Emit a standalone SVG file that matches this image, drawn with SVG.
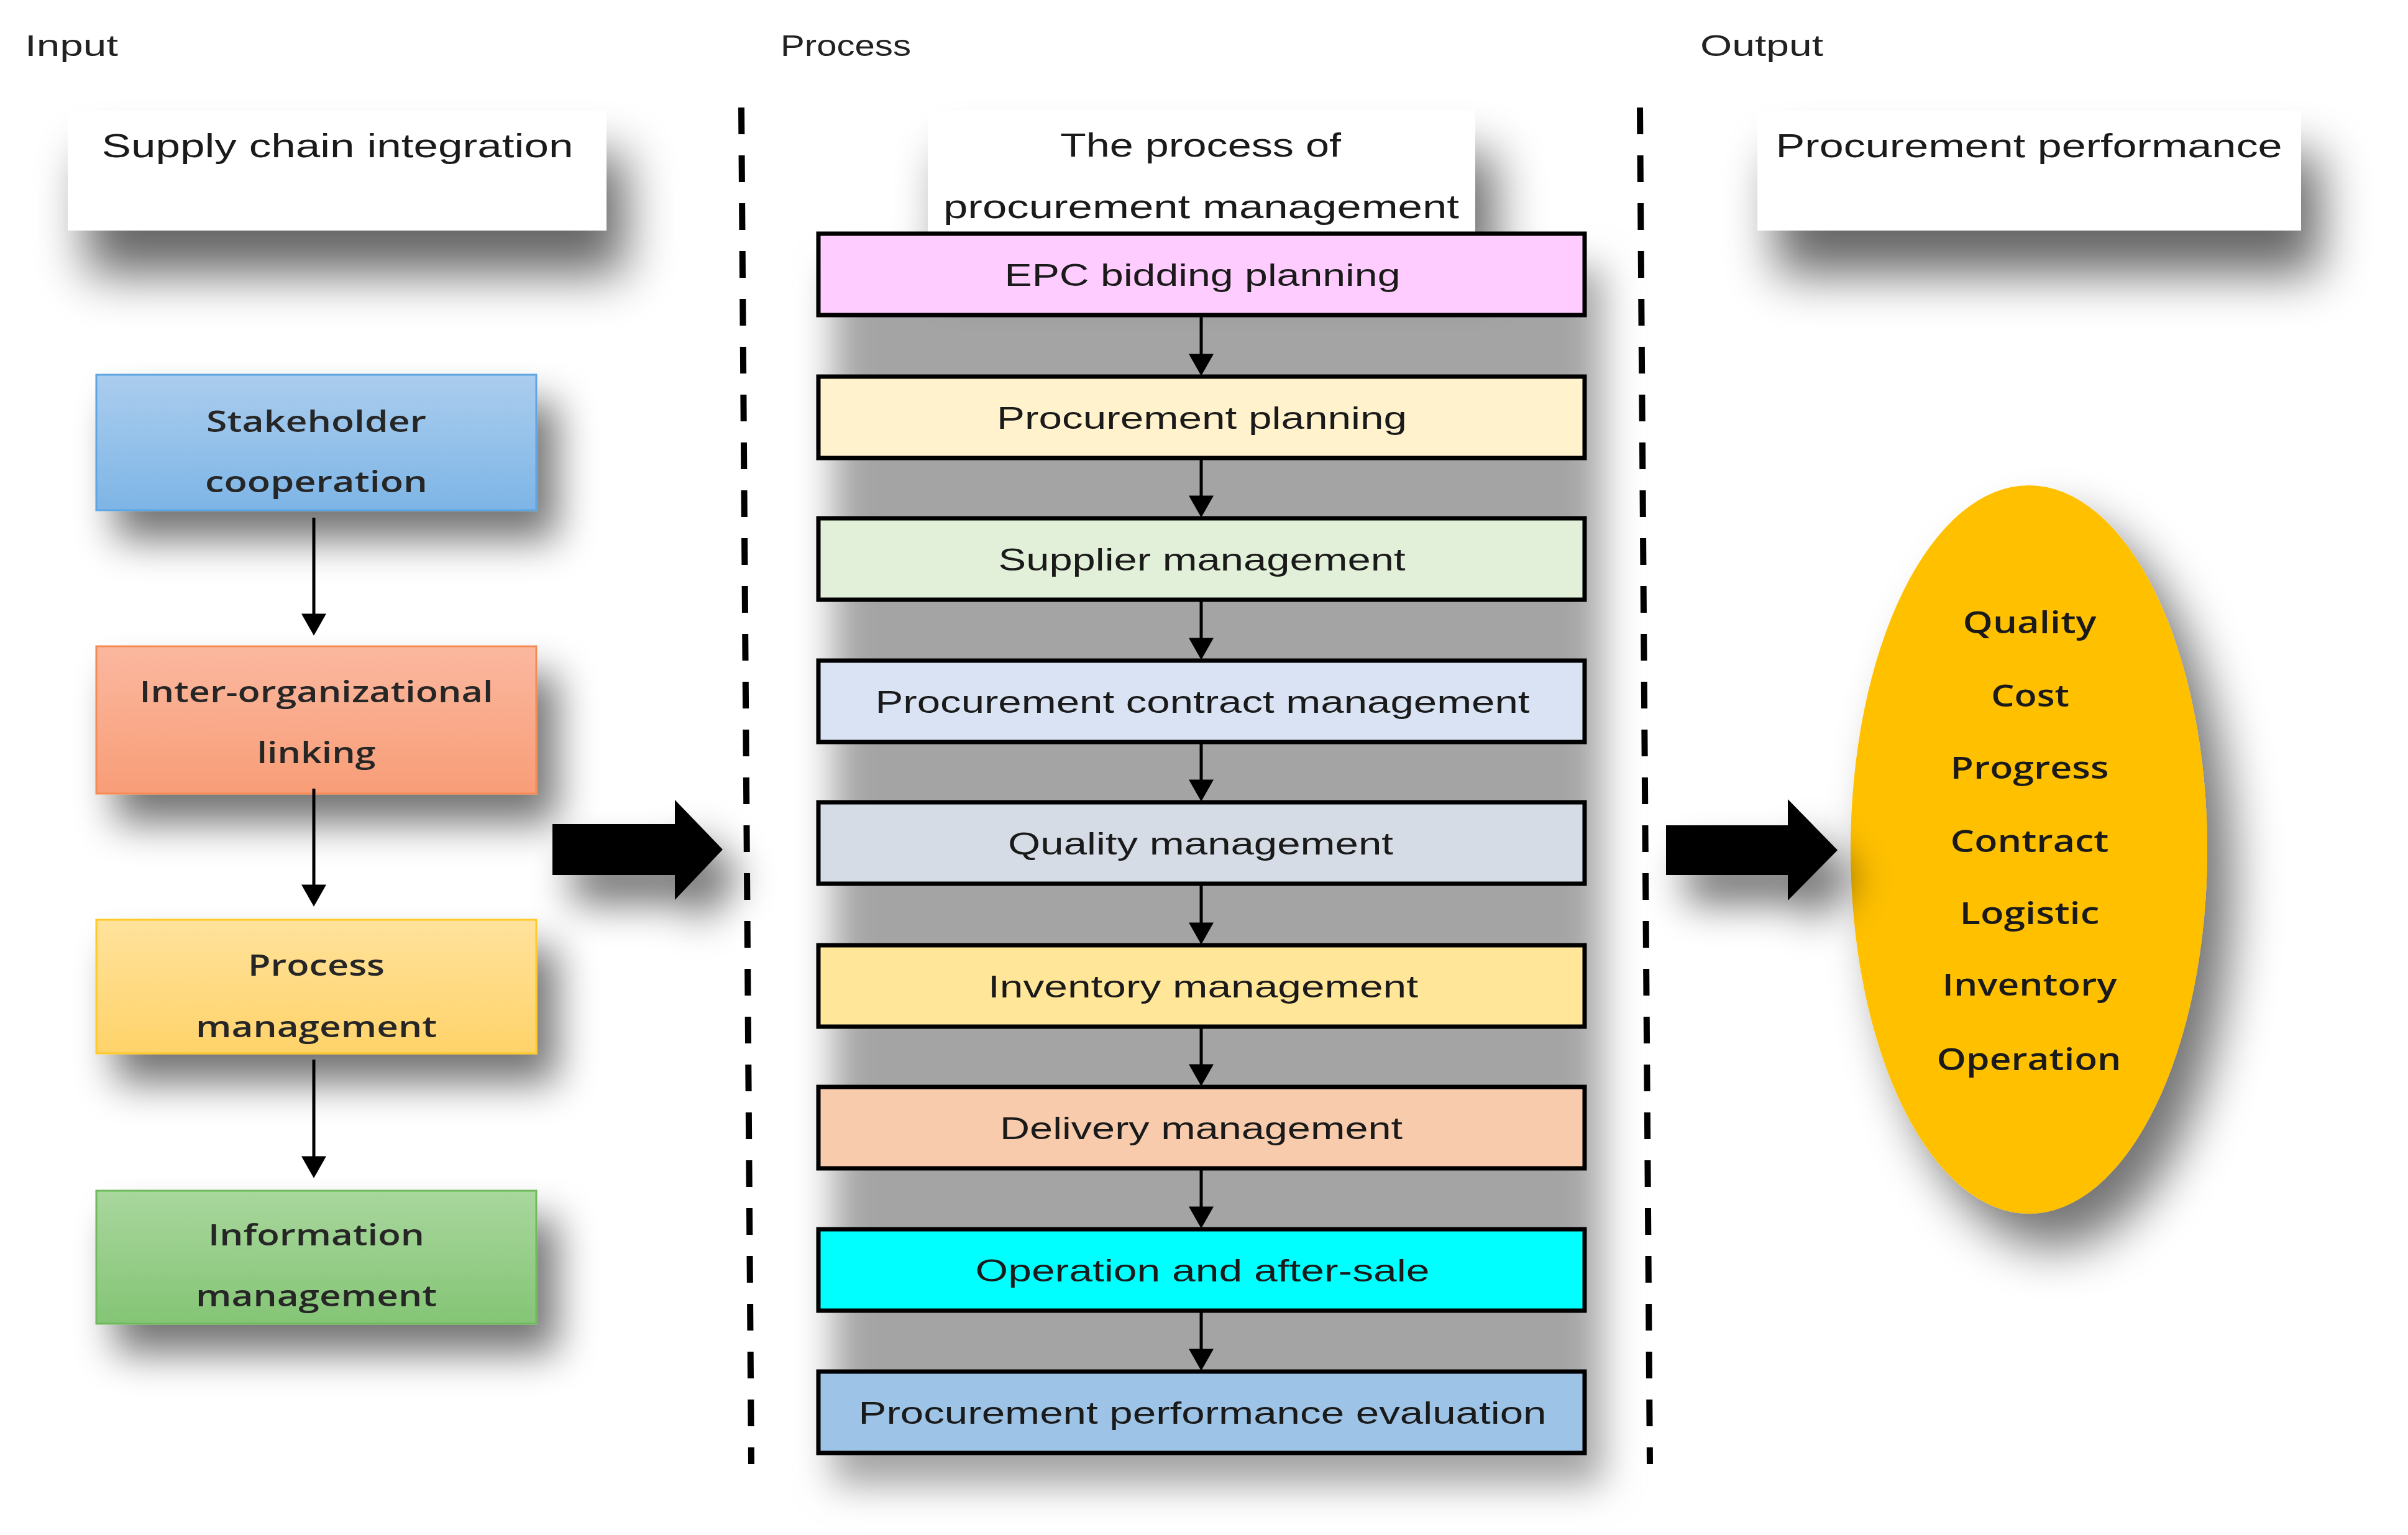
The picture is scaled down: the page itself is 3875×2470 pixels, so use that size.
<svg xmlns="http://www.w3.org/2000/svg" width="3875" height="2470" viewBox="0 0 3875 2470">
<defs>
<style>
.hdr{font-family:"Liberation Sans",Arial,sans-serif;font-size:48px;fill:#222}
.top{font-family:"Liberation Sans",Arial,sans-serif;font-size:54px;fill:#1a1a1a;text-anchor:middle}
.ctr{font-family:"Liberation Sans",Arial,sans-serif;font-size:50px;fill:#1a1a1a;text-anchor:middle}
.lft{font-family:"Open Sans","Liberation Sans",Arial,sans-serif;font-size:47px;font-weight:600;fill:#262626;text-anchor:middle}
.ell{font-family:"Open Sans","Liberation Sans",Arial,sans-serif;font-size:49px;font-weight:600;fill:#1a1a1a;text-anchor:middle}
.pbox{stroke:#000;stroke-width:7}
.conn{stroke:#000;stroke-width:5;fill:none}
.dash{stroke:#000;stroke-width:10;stroke-dasharray:43 34;fill:none}
</style>
<filter id="sh" x="-30%" y="-30%" width="170%" height="190%">
<feGaussianBlur in="SourceAlpha" stdDeviation="32"/>
<feOffset dx="32" dy="46"/>
<feComponentTransfer><feFuncA type="linear" slope="0.55"/></feComponentTransfer>
<feMerge><feMergeNode/><feMergeNode in="SourceGraphic"/></feMerge>
</filter>
<filter id="shE" x="-40%" y="-20%" width="190%" height="150%">
<feGaussianBlur in="SourceAlpha" stdDeviation="40"/>
<feOffset dx="40" dy="55"/>
<feComponentTransfer><feFuncA type="linear" slope="0.55"/></feComponentTransfer>
<feMerge><feMergeNode/><feMergeNode in="SourceGraphic"/></feMerge>
</filter>
<filter id="shTop" x="-20%" y="-50%" width="150%" height="260%">
<feGaussianBlur in="SourceAlpha" stdDeviation="40"/>
<feOffset dx="30" dy="70"/>
<feComponentTransfer><feFuncA type="linear" slope="0.6"/></feComponentTransfer>
<feMerge><feMergeNode/><feMergeNode in="SourceGraphic"/></feMerge>
</filter>
<filter id="blur" x="-20%" y="-20%" width="140%" height="140%">
<feGaussianBlur stdDeviation="30"/>
</filter>
<linearGradient id="gBlue" x1="0" y1="0" x2="0" y2="1"><stop offset="0" stop-color="#abcdee"/><stop offset="1" stop-color="#7db5e6"/></linearGradient>
<linearGradient id="gOrange" x1="0" y1="0" x2="0" y2="1"><stop offset="0" stop-color="#fbb89f"/><stop offset="1" stop-color="#f89d77"/></linearGradient>
<linearGradient id="gYellow" x1="0" y1="0" x2="0" y2="1"><stop offset="0" stop-color="#ffe29b"/><stop offset="1" stop-color="#ffd36a"/></linearGradient>
<linearGradient id="gGreen" x1="0" y1="0" x2="0" y2="1"><stop offset="0" stop-color="#a9d79d"/><stop offset="1" stop-color="#84c575"/></linearGradient>
<marker id="ah" markerUnits="userSpaceOnUse" markerWidth="40" markerHeight="40" viewBox="0 0 30 34" refX="20" refY="17" orient="auto">
<path d="M0,0 L30,17 L0,34 z" fill="#000"/>
</marker>
</defs>
<rect x="0" y="0" width="3875" height="2470" fill="#ffffff"/>

<g id="headers">
<text class="hdr" x="40" y="90" textLength="150" lengthAdjust="spacingAndGlyphs">Input</text>
<text class="hdr" x="1256" y="90" textLength="210" lengthAdjust="spacingAndGlyphs">Process</text>
<text class="hdr" x="2736" y="90" textLength="198" lengthAdjust="spacingAndGlyphs">Output</text>
</g>

<g id="dividers">
<line class="dash" x1="1193" y1="173" x2="1209" y2="2356"/>
<line class="dash" x1="2639" y1="173" x2="2655" y2="2356"/>
</g>

<g id="node-supply-chain">
<rect x="109" y="178" width="867" height="193" fill="#fff" filter="url(#shTop)"/>
<text class="top" x="543" y="253" textLength="759" lengthAdjust="spacingAndGlyphs">Supply chain integration</text>
</g>

<g id="node-procurement-performance">
<rect x="2828" y="178" width="875" height="193" fill="#fff" filter="url(#shTop)"/>
<text class="top" x="3265" y="253" textLength="815" lengthAdjust="spacingAndGlyphs">Procurement performance</text>
</g>

<g id="column-shadow">
<rect x="1340" y="430" width="1240" height="1960" fill="#a4a4a4" filter="url(#blur)"/>
</g>

<g id="node-process-of">
<rect x="1493" y="177" width="881" height="200" fill="#fff" filter="url(#shTop)"/>
<text class="top" x="1932" y="252" textLength="452" lengthAdjust="spacingAndGlyphs">The process of</text>
<text class="top" x="1933" y="351" textLength="830" lengthAdjust="spacingAndGlyphs">procurement management</text>
</g>

<g id="node-stakeholder">
<rect x="155" y="603" width="708" height="218" fill="url(#gBlue)" stroke="#5ea5e2" stroke-width="3" filter="url(#sh)"/>
<text class="lft" x="509" y="695" textLength="354" lengthAdjust="spacingAndGlyphs">Stakeholder</text>
<text class="lft" x="509" y="792" textLength="358" lengthAdjust="spacingAndGlyphs">cooperation</text>
</g>
<g id="node-inter-org">
<rect x="155" y="1040" width="708" height="237" fill="url(#gOrange)" stroke="#f48a55" stroke-width="3" filter="url(#sh)"/>
<text class="lft" x="509" y="1130" textLength="569" lengthAdjust="spacingAndGlyphs">Inter-organizational</text>
<text class="lft" x="509" y="1228" textLength="191" lengthAdjust="spacingAndGlyphs">linking</text>
</g>
<g id="node-process-mgmt">
<rect x="155" y="1480" width="708" height="215" fill="url(#gYellow)" stroke="#ffc929" stroke-width="3" filter="url(#sh)"/>
<text class="lft" x="509" y="1570" textLength="220" lengthAdjust="spacingAndGlyphs">Process</text>
<text class="lft" x="509" y="1669" textLength="388" lengthAdjust="spacingAndGlyphs">management</text>
</g>
<g id="node-info-mgmt">
<rect x="155" y="1916" width="708" height="214" fill="url(#gGreen)" stroke="#6fb95e" stroke-width="3" filter="url(#sh)"/>
<text class="lft" x="509" y="2004" textLength="348" lengthAdjust="spacingAndGlyphs">Information</text>
<text class="lft" x="509" y="2102" textLength="388" lengthAdjust="spacingAndGlyphs">management</text>
</g>

<g id="node-epc">
<rect class="pbox" x="1317" y="376" width="1233" height="131" fill="#ffccff"/>
<text class="ctr" x="1935" y="460" textLength="637" lengthAdjust="spacingAndGlyphs">EPC bidding planning</text>
</g>
<g id="node-proc-planning">
<rect class="pbox" x="1317" y="606" width="1233" height="131" fill="#fff2cc"/>
<text class="ctr" x="1934" y="690" textLength="660" lengthAdjust="spacingAndGlyphs">Procurement planning</text>
</g>
<g id="node-supplier">
<rect class="pbox" x="1317" y="834" width="1233" height="131" fill="#e2f0d9"/>
<text class="ctr" x="1934" y="918" textLength="655" lengthAdjust="spacingAndGlyphs">Supplier management</text>
</g>
<g id="node-contract">
<rect class="pbox" x="1317" y="1063" width="1233" height="131" fill="#dae3f3"/>
<text class="ctr" x="1935" y="1147" textLength="1053" lengthAdjust="spacingAndGlyphs">Procurement contract management</text>
</g>
<g id="node-quality">
<rect class="pbox" x="1317" y="1291" width="1233" height="131" fill="#d6dce5"/>
<text class="ctr" x="1932" y="1375" textLength="620" lengthAdjust="spacingAndGlyphs">Quality management</text>
</g>
<g id="node-inventory">
<rect class="pbox" x="1317" y="1521" width="1233" height="131" fill="#ffe699"/>
<text class="ctr" x="1936" y="1605" textLength="692" lengthAdjust="spacingAndGlyphs">Inventory management</text>
</g>
<g id="node-delivery">
<rect class="pbox" x="1317" y="1749" width="1233" height="131" fill="#f8cbad"/>
<text class="ctr" x="1933" y="1833" textLength="648" lengthAdjust="spacingAndGlyphs">Delivery management</text>
</g>
<g id="node-operation">
<rect class="pbox" x="1317" y="1978" width="1233" height="131" fill="#00ffff"/>
<text class="ctr" x="1935" y="2062" textLength="731" lengthAdjust="spacingAndGlyphs">Operation and after-sale</text>
</g>
<g id="node-evaluation">
<rect class="pbox" x="1317" y="2207" width="1233" height="131" fill="#9dc3e6"/>
<text class="ctr" x="1935" y="2291" textLength="1107" lengthAdjust="spacingAndGlyphs">Procurement performance evaluation</text>
</g>

<g id="node-outcomes">
<ellipse cx="3265" cy="1367" rx="287" ry="586" fill="#ffc000" filter="url(#shE)"/>
<text class="ell" x="3266" y="1019" textLength="215" lengthAdjust="spacingAndGlyphs">Quality</text>
<text class="ell" x="3267" y="1137" textLength="126" lengthAdjust="spacingAndGlyphs">Cost</text>
<text class="ell" x="3266" y="1253" textLength="255" lengthAdjust="spacingAndGlyphs">Progress</text>
<text class="ell" x="3266" y="1371" textLength="255" lengthAdjust="spacingAndGlyphs">Contract</text>
<text class="ell" x="3266" y="1487" textLength="225" lengthAdjust="spacingAndGlyphs">Logistic</text>
<text class="ell" x="3266" y="1602" textLength="281" lengthAdjust="spacingAndGlyphs">Inventory</text>
<text class="ell" x="3265" y="1722" textLength="297" lengthAdjust="spacingAndGlyphs">Operation</text>
</g>

<g id="connectors">
<line class="conn" x1="505" y1="833" x2="505" y2="1011" marker-end="url(#ah)"/>
<line class="conn" x1="505" y1="1269" x2="505" y2="1447" marker-end="url(#ah)"/>
<line class="conn" x1="505" y1="1705" x2="505" y2="1884" marker-end="url(#ah)"/>
<line class="conn" x1="1933" y1="510" x2="1933" y2="593" marker-end="url(#ah)"/>
<line class="conn" x1="1933" y1="740" x2="1933" y2="821" marker-end="url(#ah)"/>
<line class="conn" x1="1933" y1="968" x2="1933" y2="1050" marker-end="url(#ah)"/>
<line class="conn" x1="1933" y1="1197" x2="1933" y2="1278" marker-end="url(#ah)"/>
<line class="conn" x1="1933" y1="1425" x2="1933" y2="1508" marker-end="url(#ah)"/>
<line class="conn" x1="1933" y1="1655" x2="1933" y2="1736" marker-end="url(#ah)"/>
<line class="conn" x1="1933" y1="1883" x2="1933" y2="1965" marker-end="url(#ah)"/>
<line class="conn" x1="1933" y1="2112" x2="1933" y2="2194" marker-end="url(#ah)"/>
<path d="M889,1326 L1086,1326 L1086,1287 L1163,1367 L1086,1448 L1086,1408 L889,1408 z" fill="#000" filter="url(#sh)"/>
<path d="M2681,1328 L2877,1328 L2877,1286 L2957,1368 L2877,1449 L2877,1408 L2681,1408 z" fill="#000" filter="url(#sh)"/>
</g>
</svg>
